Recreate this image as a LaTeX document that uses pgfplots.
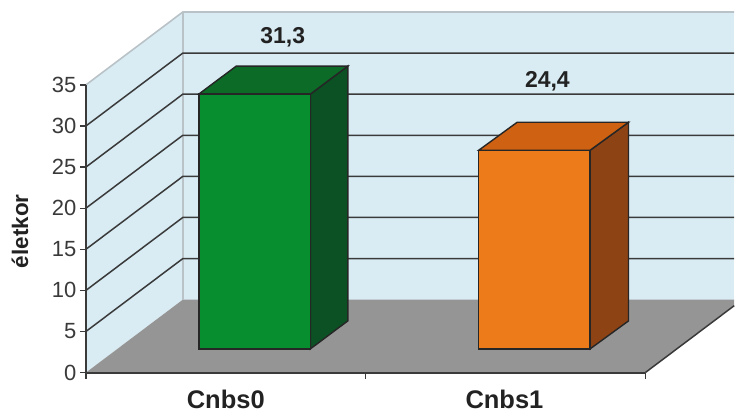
\documentclass[border=0pt]{standalone}
\usepackage{pgfplots}
\pgfplotsset{compat=1.18}
\usepackage{fontspec}
\setmainfont{Liberation Sans}
\definecolor{wall}{HTML}{D9ECF4}
\definecolor{walledge}{HTML}{B9C2C6}
\definecolor{floorgray}{HTML}{959595}
\definecolor{inkdark}{HTML}{3A3A3A}
\definecolor{labelink}{HTML}{222222}
\definecolor{greenfront}{HTML}{078E2E}
\definecolor{greentop}{HTML}{0B6B27}
\definecolor{greenside}{HTML}{0B5123}
\definecolor{orangefront}{HTML}{EE7B1A}
\definecolor{orangetop}{HTML}{CE6212}
\definecolor{orangeside}{HTML}{8E4315}
\pgfplotsset{
  frame/.style={
    scale only axis, width=560pt, height=288pt,
    at={(86pt,41pt)}, anchor=south west,
    xmin=86, xmax=646, clip=false
  }
}
\begin{document}
\begin{tikzpicture}[x=1pt,y=1pt]
\path (0,0) rectangle (735,414);
% Room: side wall, back wall, floor and the value grid
\begin{axis}[frame,
  ymin=0, ymax=35,
  axis x line*=bottom, axis y line*=left,
  axis on top=true,
  axis line style={inkdark, line width=2pt, -},
  tick style={inkdark, line width=1.4pt},
  tick align=outside, major tick length=6pt,
  ytick={0,5,...,35},
  xtick={86,366,646}, xticklabels={},
  extra x ticks={226,505},
  extra x tick labels={\textbf{Cnbs0},\textbf{Cnbs1}},
  extra x tick style={major tick length=0pt,
    tick label style={font=\fontsize{25.5}{27}\selectfont, text=labelink, yshift=-14pt}},
  tick label style={font=\fontsize{22}{24}\selectfont, text=inkdark},
  /pgf/number format/assume math mode=true,
]
\addplot[fill=wall, draw=none] coordinates {(86,0) (183,8.87) (183,43.87) (86,35)} --cycle;
\addplot[fill=wall, draw=none] coordinates {(183,8.87) (735,8.87) (735,43.87) (183,43.87)} --cycle;
\addplot[fill=floorgray, draw=none] coordinates {(86,0) (646,0) (735,8.14) (735,8.87) (183,8.87)} --cycle;
\addplot[walledge, line width=1.6pt] coordinates {(86,35) (183,43.87) (735,43.87)};
\addplot[walledge, line width=1.6pt] coordinates {(183,8.87) (183,43.87)};
\addplot[inkdark, line width=1.5pt] coordinates {(86,5)  (183,13.87) (735,13.87)};
\addplot[inkdark, line width=1.5pt] coordinates {(86,10) (183,18.87) (735,18.87)};
\addplot[inkdark, line width=1.5pt] coordinates {(86,15) (183,23.87) (735,23.87)};
\addplot[inkdark, line width=1.5pt] coordinates {(86,20) (183,28.87) (735,28.87)};
\addplot[inkdark, line width=1.5pt] coordinates {(86,25) (183,33.87) (735,33.87)};
\addplot[inkdark, line width=1.5pt] coordinates {(86,30) (183,38.87) (735,38.87)};
\addplot[inkdark, line width=1.5pt] coordinates {(646,0) (735,8.14)};
\node[rotate=90, font=\fontsize{22.5}{24}\selectfont\bfseries, text=labelink]
  at (axis cs:20,17.2) {életkor};
\end{axis}
% Columns: front faces are the values themselves, top and side faces add the depth
\begin{axis}[frame,
  ymin=-2.91, ymax=32.43,
  hide axis,
]
\addplot[fill=greenside, draw=black!85, line width=1.4pt] coordinates {(310.7,0) (348.2,3.44) (348.2,34.74) (310.7,31.3)} --cycle;
\addplot[fill=greentop, draw=black!85, line width=1.4pt] coordinates {(199,31.3) (310.7,31.3) (348.2,34.74) (236.5,34.74)} --cycle;
\addplot[ybar, bar shift=0pt, bar width=111.5pt, fill=greenfront, draw=black!85, line width=1.4pt] coordinates {(254.85,31.3)};
\addplot[fill=orangeside, draw=black!85, line width=1.4pt] coordinates {(590.7,0) (629.2,3.44) (629.2,27.84) (590.7,24.4)} --cycle;
\addplot[fill=orangetop, draw=black!85, line width=1.4pt] coordinates {(479.2,24.4) (590.7,24.4) (629.2,27.84) (517.7,27.84)} --cycle;
\addplot[ybar, bar shift=0pt, bar width=111.5pt, fill=orangefront, draw=black!85, line width=1.4pt] coordinates {(534.95,24.4)};
\node[font=\fontsize{23}{25}\selectfont\bfseries, text=labelink] at (axis cs:283,38.3) {31,3};
\node[font=\fontsize{23}{25}\selectfont\bfseries, text=labelink] at (axis cs:548,32.9) {24,4};
\end{axis}
\end{tikzpicture}
\end{document}
